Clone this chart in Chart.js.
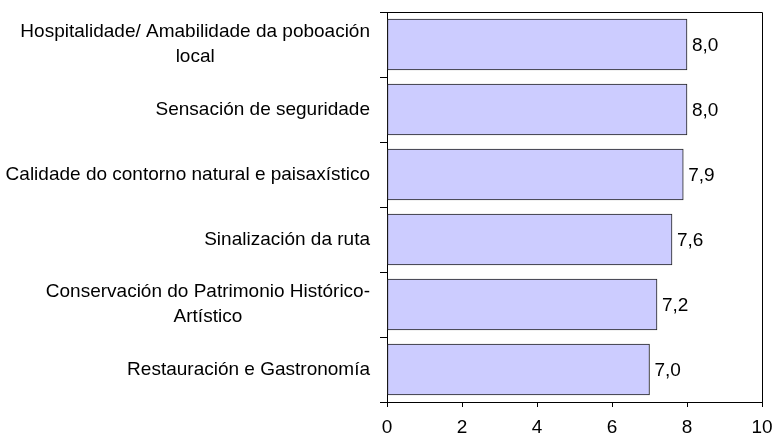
<!DOCTYPE html>
<html>
<head>
<meta charset="utf-8">
<script src="https://cdn.jsdelivr.net/npm/chart.js@4/dist/chart.umd.min.js"></script>
<style>
  html, body { margin: 0; padding: 0; background: #fff; }
  #wrap { width: 774px; height: 440px; }
</style>
</head>
<body>
<div id="wrap"><canvas id="valoracionChart"></canvas></div>
<script>
const categories = [
  ['Hospitalidade/ Amabilidade da poboación', 'local'],
  ['Sensación de seguridade'],
  ['Calidade do contorno natural e paisaxístico'],
  ['Sinalización da ruta'],
  ['Conservación do Patrimonio Histórico-', 'Artístico'],
  ['Restauración e Gastronomía']
];
const scores = [8.0, 8.0, 7.9, 7.6, 7.2, 7.0];
const xTicks = [0, 2, 4, 6, 8, 10];

const FONT = 'Liberation Sans, Arial, sans-serif';
const FONT_SIZE = 19;

// comma decimal, one place
const fmt = v => v.toFixed(1).replace('.', ',');

// category text on the left, lines centred on each other, block right-aligned
const categoryLabels = {
  id: 'categoryLabels',
  afterDraw(chart) {
    const ctx = chart.ctx;
    const y = chart.scales.y;
    const right = chart.chartArea.left - 17;
    const lh = 25;
    ctx.save();
    ctx.font = FONT_SIZE + 'px ' + FONT;
    ctx.fillStyle = '#000';
    ctx.textAlign = 'center';
    ctx.textBaseline = 'middle';
    categories.forEach((lines, i) => {
      const w = Math.max(...lines.map(l => ctx.measureText(l).width));
      const cx = right - w / 2;
      const cy = y.getPixelForValue(i);
      const top = cy - (lines.length - 1) * lh / 2;
      lines.forEach((l, k) => ctx.fillText(l, cx, top + k * lh));
    });
    ctx.restore();
  }
};

// value next to each bar end
const valueLabels = {
  id: 'valueLabels',
  afterDatasetsDraw(chart) {
    const ctx = chart.ctx;
    const meta = chart.getDatasetMeta(0);
    ctx.save();
    ctx.font = FONT_SIZE + 'px ' + FONT;
    ctx.fillStyle = '#000';
    ctx.textAlign = 'left';
    ctx.textBaseline = 'middle';
    meta.data.forEach((bar, i) => {
      ctx.fillText(fmt(scores[i]), bar.x + 5, bar.y + 1);
    });
    ctx.restore();
  }
};

// box round the plot area
const plotFrame = {
  id: 'plotFrame',
  afterDraw(chart) {
    const { left, top, right, bottom } = chart.chartArea;
    const ctx = chart.ctx;
    ctx.save();
    ctx.strokeStyle = '#000';
    ctx.lineWidth = 1;
    ctx.beginPath();
    ctx.moveTo(Math.round(left) + 0.5, Math.round(top) + 0.5);
    ctx.lineTo(Math.round(right) + 0.5, Math.round(top) + 0.5);
    ctx.lineTo(Math.round(right) + 0.5, Math.round(bottom) + 0.5);
    ctx.stroke();
    ctx.restore();
  }
};

new Chart(document.getElementById('valoracionChart'), {
  type: 'bar',
  data: {
    labels: categories,
    datasets: [{
      data: scores,
      backgroundColor: '#ccccff',
      borderColor: '#222222',
      borderWidth: 1,
      borderSkipped: false,
      barThickness: 51
    }]
  },
  options: {
    indexAxis: 'y',
    responsive: true,
    maintainAspectRatio: false,
    animation: false,
    layout: { padding: { left: 380, right: 0, top: 12, bottom: 0 } },
    plugins: {
      legend: { display: false },
      tooltip: { enabled: false }
    },
    scales: {
      x: {
        min: 0,
        max: 10,
        afterBuildTicks: scale => { scale.ticks = xTicks.map(v => ({ value: v })); },
        afterFit: scale => {
          scale.height = 38;
          scale.paddingLeft = 0;
          scale.paddingRight = 12;
        },
        grid: { drawOnChartArea: false, color: '#000', tickLength: 5 },
        border: { color: '#000', width: 1 },
        ticks: {
          color: '#000',
          padding: 9,
          font: { family: FONT, size: FONT_SIZE }
        }
      },
      y: {
        grid: { drawOnChartArea: false, color: '#000', tickLength: 7, offset: true },
        border: { color: '#000', width: 1 },
        ticks: { display: false },
        afterFit: scale => { scale.width = 7; }
      }
    }
  },
  plugins: [categoryLabels, valueLabels, plotFrame]
});
</script>
</body>
</html>
